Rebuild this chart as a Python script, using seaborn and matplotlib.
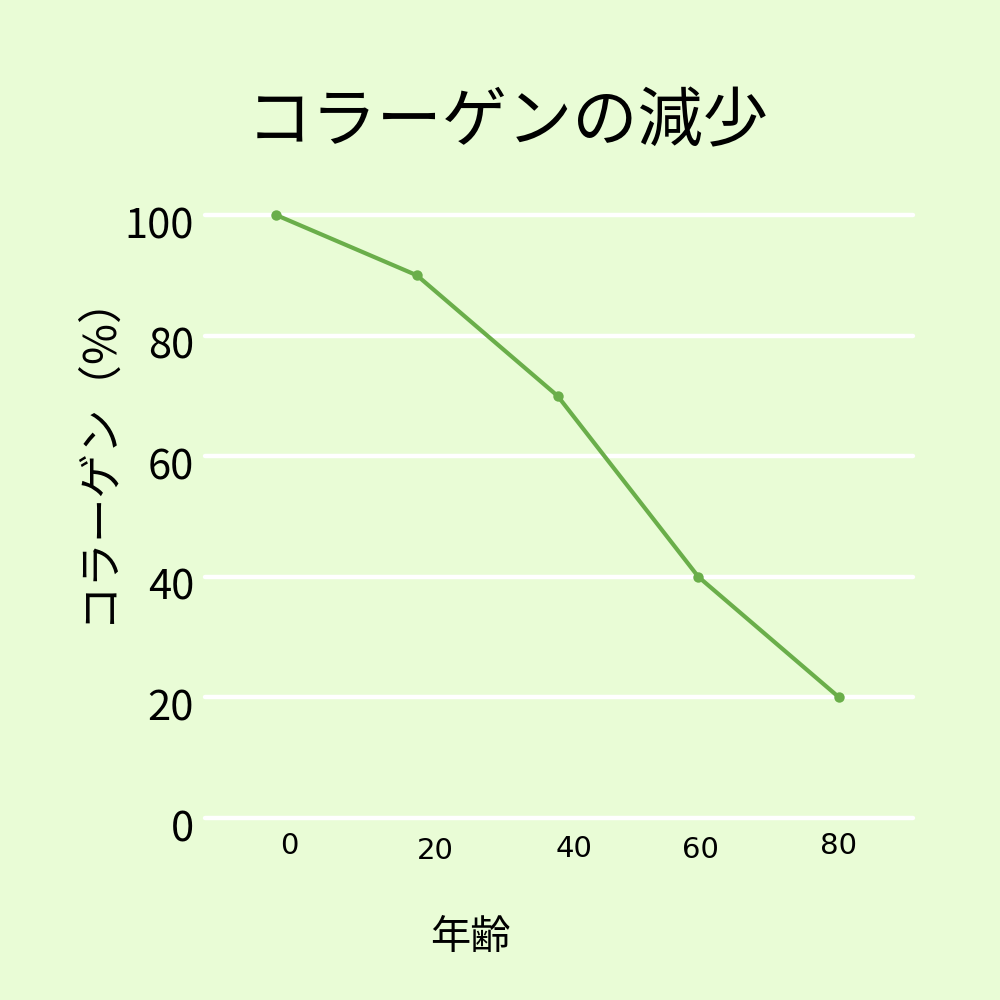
import matplotlib
matplotlib.use("Agg")
import matplotlib.pyplot as plt
import matplotlib.transforms as mtrans
import seaborn as sns
import pandas as pd

ages = [0, 20, 40, 60, 80]
collagen = [100, 90, 70, 40, 20]
x_ticks = [0, 20, 40, 60, 80]
y_ticks = [0, 20, 40, 60, 80, 100]
title = "コラーゲンの減少"
xlabel = "年齢"
ylabel = "コラーゲン（%）"

BG = "#E9FCD6"
LINE = "#6AAE4A"

sns.set_theme(style="white")
plt.rcParams["font.family"] = ["Noto Sans CJK JP", "DejaVu Sans"]
plt.rcParams["text.color"] = "black"
plt.rcParams["xtick.color"] = "black"
plt.rcParams["ytick.color"] = "black"
plt.rcParams["axes.labelcolor"] = "black"

fig = plt.figure(figsize=(10, 10), dpi=100, facecolor=BG)
ax = fig.add_axes([0.205, 0.182, 0.708, 0.603])
ax.set_facecolor(BG)

df = pd.DataFrame({"age": ages, "collagen": collagen})
sns.lineplot(data=df, x="age", y="collagen", ax=ax, color=LINE, linewidth=3.0,
             marker="o", markersize=7.5, markeredgewidth=0, clip_on=False, zorder=3)

ax.set_xlim(-10.1, 90.5)
ax.set_ylim(0, 100)
ax.set_yticks(y_ticks)
ax.set_yticklabels([str(v) for v in y_ticks], fontsize=30)
ax.set_xticks(x_ticks)
ax.set_xticklabels([str(v) for v in x_ticks], fontsize=21, family=["DejaVu Sans"])
ax.tick_params(axis="both", length=0)
ax.tick_params(axis="y", pad=8)
ax.tick_params(axis="x", pad=12)

# replicate slight offsets of tick labels
offsets = [(13, 3), (18, -2), (16, 0), (2, -1), (-1, 3)]
for lab, (dx, dy) in zip(ax.get_xticklabels(), offsets):
    lab.set_transform(lab.get_transform() + mtrans.ScaledTranslation(dx / 100, dy / 100, fig.dpi_scale_trans))
for lab in ax.get_yticklabels():
    lab.set_transform(lab.get_transform() + mtrans.ScaledTranslation(0, -7 / 100, fig.dpi_scale_trans))

for v in y_ticks:
    ax.axhline(v, color="white", linewidth=3.2, zorder=1, clip_on=False)
for s in ax.spines.values():
    s.set_visible(False)
ax.grid(False)

ax.set_xlabel(xlabel, fontsize=29)
ax.xaxis.set_label_coords(0.375, -0.1635)
ax.set_ylabel(ylabel, fontsize=32)
ax.yaxis.set_label_coords(-0.121, 0.616)

fig.text(0.508, 0.877, title, ha="center", va="center", fontsize=47)

fig.savefig("out.png", dpi=100, facecolor=BG)
